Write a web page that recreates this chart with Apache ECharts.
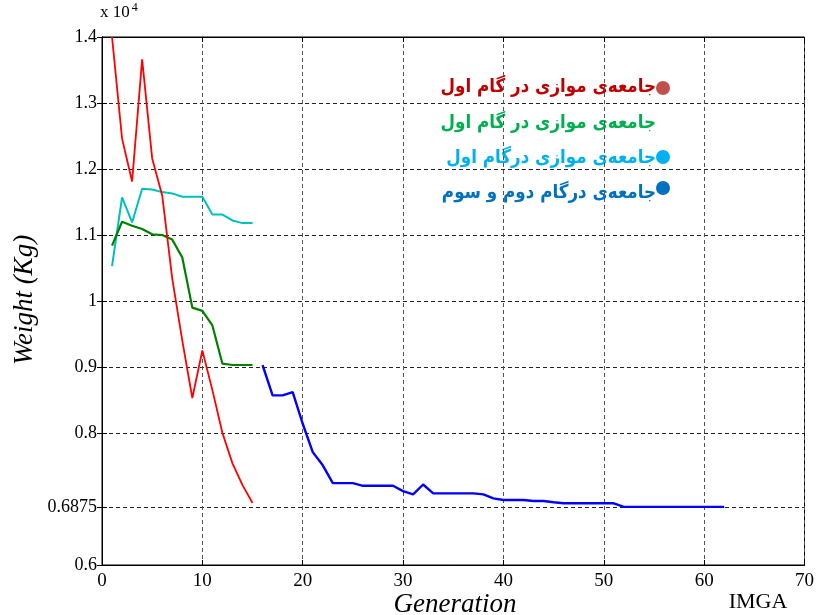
<!DOCTYPE html>
<html>
<head>
<meta charset="utf-8">
<script src="https://cdn.jsdelivr.net/npm/echarts@6/dist/echarts.min.js"></script>
<style>
html,body{margin:0;padding:0;background:#fff;}
#c{width:817px;height:615px;}
</style>
</head>
<body>
<div id="c"></div>
<script>
// ---- data (weights in units of 10^4 kg) ----
var genA = [1,2,3,4,5,6,7,8,9,10,11,12,13,14,15];
var redVals   = [1.40,1.246,1.181,1.366,1.216,1.160,1.034,0.940,0.853,0.925,0.865,0.800,0.754,0.721,0.694];
var greenVals = [1.084,1.120,1.114,1.109,1.101,1.100,1.093,1.066,0.990,0.985,0.963,0.905,0.903,0.903,0.903];
var cyanVals  = [1.053,1.157,1.119,1.170,1.169,1.165,1.163,1.158,1.158,1.158,1.131,1.131,1.122,1.118,1.118];
var genB = [16,17,18,19,20,21,22,23,24,25,26,27,28,29,30,31,32,33,34,35,36,37,38,39,40,41,42,43,44,45,46,47,48,49,50,51,52,53,54,55,56,57,58,59,60,61,62];
var blueVals = [0.903,0.857,0.857,0.862,0.814,0.771,0.751,0.724,0.724,0.724,0.720,0.720,0.720,0.720,0.712,0.707,0.722,0.7085,0.7085,0.7085,0.7085,0.7085,0.707,0.701,0.6985,0.6985,0.6985,0.697,0.697,0.695,0.6935,0.6935,0.6935,0.6935,0.6935,0.6935,0.688,0.688,0.688,0.688,0.688,0.688,0.688,0.688,0.688,0.688,0.688];
var yTicks = [0.6,0.6875,0.8,0.9,1,1.1,1.2,1.3,1.4];
var legendTexts = ['جامعه\u200cی موازی در گام اول','جامعه\u200cی موازی در گام اول','جامعه\u200cی موازی درگام اول','جامعه\u200cی درگام دوم و سوم'];

function pairs(xs, ys){ return xs.map(function(x,i){ return [x, ys[i]]; }); }

var serif = '"Liberation Serif","Times New Roman",serif';
var chart = echarts.init(document.getElementById('c'), null, {renderer:'canvas'});
function legendText(i, y, color){
  return {type:'text',x:656,y:y,scaleX:0.88,scaleY:1,
    style:{text:legendTexts[i],fontFamily:'"DejaVu Sans"',fontWeight:'bold',fontSize:19,fill:color,align:'right',verticalAlign:'middle'}};
}
chart.setOption({
  animation:false,
  backgroundColor:'#fff',
  grid:{left:102,right:7,top:37,bottom:50,show:true,borderColor:'#000',borderWidth:1,backgroundColor:'transparent'},
  xAxis:[{
    type:'value',min:0,max:70,interval:10,position:'bottom',
    axisLine:{show:true,lineStyle:{color:'#000',width:1}},
    axisTick:{show:true,inside:true,length:5,lineStyle:{color:'#000'}},
    axisLabel:{color:'#000',fontFamily:serif,fontSize:19,margin:7},
    splitLine:{show:true,lineStyle:{color:'#555',type:[4,3],width:1}}
  },{
    type:'value',min:0,max:70,interval:10,position:'top',
    axisLine:{show:true,lineStyle:{color:'#000',width:1}},
    axisTick:{show:true,inside:true,length:5,lineStyle:{color:'#000'}},
    axisLabel:{show:false},splitLine:{show:false}
  }],
  yAxis:[{
    type:'value',min:0.6,max:1.4,position:'left',
    axisLine:{show:true,lineStyle:{color:'#000',width:1}},
    axisTick:{show:true,inside:true,length:5,customValues:yTicks,lineStyle:{color:'#000'}},
    axisLabel:{color:'#000',fontFamily:serif,fontSize:18,margin:5,customValues:yTicks,
      formatter:function(v){return String(v);}},
    splitLine:{show:true,lineStyle:{color:'#222',type:[4,3],width:1}}
  },{
    type:'value',min:0.6,max:1.4,position:'right',
    axisLine:{show:true,lineStyle:{color:'#000',width:1}},
    axisTick:{show:true,inside:true,length:5,customValues:yTicks,lineStyle:{color:'#000'}},
    axisLabel:{show:false,customValues:yTicks},splitLine:{show:false}
  }],
  series:[
    {type:'line',name:'red',data:pairs(genA,redVals),showSymbol:false,symbol:'none',lineStyle:{color:'#ff0000',width:1.8},itemStyle:{color:'#ff0000'},z:4},
    {type:'line',name:'green',data:pairs(genA,greenVals),showSymbol:false,symbol:'none',lineStyle:{color:'#008000',width:2.2},itemStyle:{color:'#008000'},z:3},
    {type:'line',name:'cyan',data:pairs(genA,cyanVals),showSymbol:false,symbol:'none',lineStyle:{color:'#00bfbf',width:2},itemStyle:{color:'#00bfbf'},z:2},
    {type:'line',name:'blue',data:pairs(genB,blueVals),showSymbol:false,symbol:'none',lineStyle:{color:'#0000ff',width:2.4},itemStyle:{color:'#0000ff'},z:3}
  ],
  graphic:[
    {type:'text',left:100,top:2,style:{text:'{a|x 10}{b|4}',rich:{a:{fontFamily:serif,fontSize:17,fill:'#000'},b:{fontFamily:serif,fontSize:12,fill:'#000',verticalAlign:'top',padding:[0,0,10,2]}}}},
    {type:'text',x:25,y:300,rotation:Math.PI/2,style:{text:'Weight (Kg)',fontFamily:serif,fontStyle:'italic',fontSize:27,fill:'#000',align:'center',verticalAlign:'middle'}},
    {type:'text',x:455,y:605,style:{text:'Generation',fontFamily:serif,fontStyle:'italic',fontSize:27,fill:'#000',align:'center',verticalAlign:'middle'}},
    {type:'text',x:758,y:602,style:{text:'IMGA',fontFamily:serif,fontSize:22,fill:'#000',align:'center',verticalAlign:'middle'}},
    legendText(0, 87, '#c00000'),
    legendText(1, 123, '#00b050'),
    legendText(2, 158, '#00b0f0'),
    legendText(3, 193, '#0070c0'),
    {type:'circle',shape:{cx:663,cy:88,r:7},style:{fill:'#c0504d'}},
    {type:'circle',shape:{cx:663,cy:157,r:7},style:{fill:'#00b0f0'}},
    {type:'circle',shape:{cx:663,cy:188,r:7},style:{fill:'#0070c0'}}
  ]
});
</script>
</body>
</html>
